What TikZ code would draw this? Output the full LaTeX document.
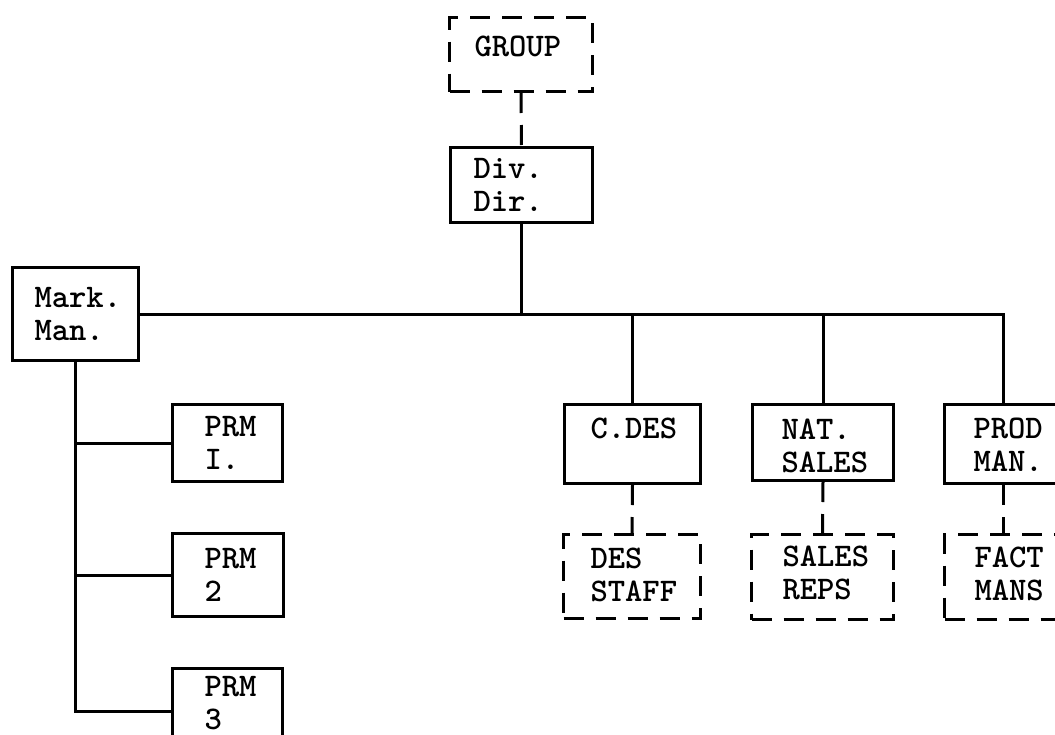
\documentclass[tikz,border=0pt]{standalone}
\usepackage{tikz}
\usetikzlibrary{positioning}

\begin{document}
\begin{tikzpicture}[
  x=1pt, y=-1pt,
  box/.style={rectangle, draw, line width=3pt, anchor=north west,
              align=left, inner xsep=27pt, inner ysep=0pt,
              font=\fontsize{33}{33}\selectfont\ttfamily\bfseries},
  dbox/.style={box, dash pattern=on 20pt off 12pt},
  link/.style={line width=3pt},
  dlink/.style={link, dash pattern=on 20pt off 12pt},
]
  \useasboundingbox (0,0) rectangle (1055,734);
  \clip (0,0) rectangle (1055,734);
  % top of the chart
  \node[dbox, inner xsep=25pt, minimum width=143pt, text width=93pt, minimum height=74pt, text height=39pt, text depth=35pt] (group) at (448,16) {GROUP};
  \node[box, inner xsep=23pt, minimum width=142pt, text width=96pt, minimum height=75pt, text height=31pt, text depth=44pt] (divdir) at (449,146) {Div.\\Dir.};
  \node[box, inner xsep=22pt, minimum width=126pt, text width=82pt, minimum height=93pt, text height=40pt, text depth=53pt] (markman) at (11,266) {Mark.\\Man.};
  % product managers
  \node[box, inner xsep=32pt, minimum width=110pt, text width=46pt, minimum height=77pt, text height=32pt, text depth=45pt] (prm1) at (171,403) {PRM\\I.};
  \node[box, inner xsep=32pt, minimum width=111pt, text width=47pt, minimum height=83pt, text height=35pt, text depth=48pt] (prm2) at (171,532) {PRM\\2};
  \node[box, inner xsep=32pt, minimum width=110pt, text width=46pt, minimum height=86pt, text height=28pt, text depth=58pt] (prm3) at (171,667) {PRM\\3};
  % line departments
  \node[box, inner xsep=26pt, minimum width=136pt, text width=84pt, minimum height=79pt, text height=34pt, text depth=45pt] (cdes) at (563,403) {C.DES};
  \node[box, inner xsep=29pt, minimum width=141pt, text width=83pt, minimum height=76pt, text height=35pt, text depth=41pt] (natsales) at (751,403) {NAT.\\SALES};
  \node[box, inner xsep=29pt, minimum width=118pt, text width=60pt, minimum height=79pt, text height=34pt, text depth=45pt] (prodman) at (943,403) {PROD\\MAN.};
  \node[dbox, inner xsep=27pt, minimum width=137pt, text width=83pt, minimum height=84pt, text height=34pt, text depth=50pt] (desstaff) at (562,533) {DES\\STAFF};
  \node[dbox, inner xsep=31pt, minimum width=142pt, text width=80pt, minimum height=85pt, text height=32pt, text depth=53pt] (salesreps) at (750,533) {SALES\\REPS};
  \node[dbox, inner xsep=30pt, minimum width=118pt, text width=58pt, minimum height=85pt, text height=33pt, text depth=52pt] (factmans) at (943,533) {FACT\\MANS};

  \draw[dlink] (group.south) -- (divdir.north);
  \draw[link] (markman.east) -- (markman.east -| prodman.north) -- (prodman.north);
  \draw[link] (divdir.south) -- (divdir.south |- markman.east);
  \draw[link] (cdes.north) -- (cdes.north |- markman.east);
  \draw[link] (natsales.north) -- (natsales.north |- markman.east);
  \draw[link] (markman.south) -- (markman.south |- prm3.west) -- (prm3.west);
  \draw[link] (prm1.west -| markman.south) -- (prm1.west);
  \draw[link] (prm2.west -| markman.south) -- (prm2.west);
  \draw[dlink] (cdes.south) -- (desstaff.north);
  \draw[dlink] (natsales.south) -- (salesreps.north);
  \draw[dlink] (prodman.south) -- (factmans.north);
\end{tikzpicture}
\end{document}
